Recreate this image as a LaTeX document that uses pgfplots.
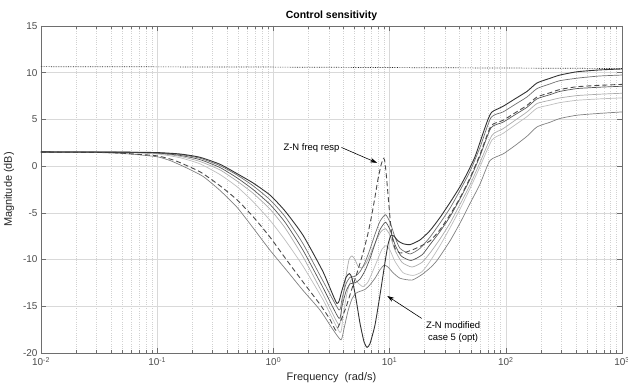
\documentclass[border=0pt]{standalone}
\usepackage{fontspec}
\setmainfont{Liberation Sans}
\usepackage{pgfplots}
\pgfplotsset{compat=1.18}
\usetikzlibrary{arrows.meta}
\definecolor{cA}{HTML}{333333}
\definecolor{cD}{HTML}{4A4A4A}
\definecolor{cG1}{HTML}{707070}
\definecolor{cG2}{HTML}{555555}
\definecolor{cG3}{HTML}{ABABAB}
\definecolor{cG4}{HTML}{BDBDBD}
\definecolor{cG5}{HTML}{808080}
\definecolor{axc}{HTML}{6E6E6E}
\begin{document}
\begin{tikzpicture}
\begin{axis}[
  scale only axis, width=581bp, height=327bp,
  xmode=log, xmin=0.01, xmax=1000, ymin=-20, ymax=15,
  xtick={0.01,0.1,1,10,100,1000},
  xticklabels={10\textsuperscript{-2},10\textsuperscript{-1},10\textsuperscript{0},10\textsuperscript{1},10\textsuperscript{2},10\textsuperscript{3}},
  ytick={-20,-15,-10,-5,0,5,10,15},
  yticklabels={-20,-15,-10,-5,0,5,10,15},
  minor y tick num=0,
  grid=both,
  major grid style={black!15, line width=0.5bp},
  minor grid style={black!18, line width=0.5bp, dash pattern=on 0.6bp off 1.6bp},
  axis line style={axc, line width=0.6bp},
  tick style={axc, line width=0.5bp},
  tick align=inside,
  major tick length=5bp, minor tick length=3bp,
  /pgf/number format/assume math mode=true,
  tick label style={font=\fontsize{10}{12}\selectfont, text=black!70},
  xticklabel style={yshift=-1bp},
  label style={font=\fontsize{11}{13}\selectfont, text=black!85},
  xlabel={Frequency\ \ (rad/s)},
  ylabel={Magnitude (dB)},
  ylabel style={yshift=2bp},
  title={\bfseries Control sensitivity},
  title style={font=\fontsize{10.5}{12}\selectfont, yshift=-4bp},
  every axis plot/.append style={line join=round, smooth, tension=0.35},
]
% dotted reference line
\addplot[black!85, densely dotted, line width=0.7bp] coordinates {(0.01,10.65)(1,10.6)(10,10.55)(100,10.5)(1000,10.45)};
% G4 light
\addplot[cG4, line width=0.7bp] coordinates {(0.01,1.52)(0.0479,1.46)(0.1,1.3)(0.157,0.9)(0.233,0.25)(0.347,-0.9)(0.486,-2.2)(0.668,-3.8)(0.935,-5.8)(1.259,-7.9)(1.798,-10.7)(2.673,-14.3)(3.742,-17.8)(3.972,-16.0)(4.299,-13.6)(4.655,-12.2)(4.941,-12.0)(5.344,-12.5)(5.902,-12.9)(6.518,-12.4)(7.196,-11.2)(7.947,-9.9)(8.60,-8.9)(9.312,-8.5)(10.08,-9.0)(11.13,-10.2)(13.04,-11.4)(15.90,-11.7)(19.0,-11.3)(22.27,-10.2)(27.15,-8.5)(33.11,-6.6)(40.35,-4.6)(49.19,-2.4)(59.96,-0.06)(76.07,2.8)(94.6,3.5)(120,4.4)(152.2,5.3)(185.6,6.2)(240.1,6.55)(292.6,6.8)(410.1,7.05)(646.9,7.2)(1000,7.3)};
% G3 light
\addplot[cG3, line width=0.7bp] coordinates {(0.01,1.52)(0.0479,1.48)(0.1,1.37)(0.157,1.05)(0.233,0.5)(0.347,-0.4)(0.486,-1.6)(0.668,-2.9)(0.935,-4.6)(1.259,-6.6)(1.798,-9.7)(2.673,-13.7)(3.669,-17.0)(3.892,-14.8)(4.216,-11.8)(4.474,-10.0)(4.746,-9.6)(5.036,-10.0)(5.344,-10.7)(5.788,-10.9)(6.265,-10.4)(6.781,-9.5)(7.640,-8.0)(8.432,-7.0)(9.220,-6.7)(10.08,-7.4)(11.13,-9.0)(12.79,-10.3)(15.59,-10.8)(19.0,-10.3)(22.27,-9.3)(27.15,-7.8)(33.11,-6.1)(40.35,-4.1)(49.19,-2.0)(59.96,0.39)(76.07,3.3)(94.6,4.0)(120,4.9)(152.2,5.8)(185.6,6.7)(240.1,7.05)(292.6,7.3)(410.1,7.55)(646.9,7.7)(1000,7.8)};
% G5 medium
\addplot[cG5, line width=0.7bp] coordinates {(0.01,1.5)(0.0322,1.45)(0.0583,1.3)(0.1,1.0)(0.129,0.6)(0.173,-0.1)(0.248,-1.1)(0.347,-2.6)(0.486,-4.4)(0.668,-6.6)(0.935,-9.0)(1.309,-11.2)(1.798,-13.3)(2.518,-15.4)(3.258,-17.5)(3.817,-18.6)(4.052,-17.4)(4.386,-15.5)(4.746,-14.2)(5.137,-13.6)(5.559,-13.4)(6.140,-13.2)(6.781,-12.7)(7.489,-12.0)(8.266,-11.1)(8.951,-10.6)(9.687,-10.8)(10.70,-11.4)(12.29,-12.0)(15.59,-12.2)(19.0,-11.6)(22.27,-10.9)(25.58,-10.1)(33.11,-8.0)(40.35,-6.1)(49.19,-4.0)(59.96,-1.93)(73.11,0.6)(94.6,1.3)(120,2.2)(152.2,3.2)(185.6,4.2)(240.1,4.7)(292.6,5.1)(410.1,5.45)(646.9,5.65)(1000,5.8)};
% G1
\addplot[cG1, line width=0.7bp] coordinates {(0.01,1.52)(0.0479,1.5)(0.1,1.43)(0.157,1.25)(0.233,0.85)(0.347,0.05)(0.486,-0.95)(0.668,-2.1)(0.935,-3.6)(1.259,-5.4)(1.798,-8.3)(2.673,-12.3)(3.669,-15.4)(3.892,-14.2)(4.216,-12.6)(4.562,-11.9)(5.036,-11.8)(5.559,-11.3)(6.140,-10.3)(6.781,-8.9)(7.489,-7.3)(8.266,-5.9)(9.220,-5.2)(10.08,-6.0)(11.13,-7.6)(12.29,-8.8)(14.99,-9.4)(18.27,-8.8)(22.27,-7.6)(27.15,-6.1)(33.11,-4.5)(40.35,-2.6)(49.19,-0.56)(59.96,2.0)(74.57,5.2)(94.6,5.8)(120,6.6)(152.2,7.4)(185.6,8.3)(240.1,8.8)(292.6,9.15)(435.3,9.45)(646.9,9.65)(1000,9.75)};
% G2 dark gray
\addplot[cG2, line width=0.7bp] coordinates {(0.01,1.52)(0.0479,1.49)(0.1,1.4)(0.157,1.15)(0.233,0.7)(0.347,-0.15)(0.486,-1.25)(0.668,-2.5)(0.935,-4.1)(1.259,-6.0)(1.798,-9.0)(2.673,-13.0)(3.669,-16.3)(3.892,-15.0)(4.216,-13.4)(4.562,-12.6)(5.036,-12.5)(5.559,-12.1)(6.140,-11.2)(6.781,-9.9)(7.489,-8.3)(8.266,-6.8)(9.220,-6.0)(10.08,-6.8)(11.13,-8.4)(12.54,-9.6)(15.29,-10.1)(19.0,-9.5)(22.27,-8.4)(27.15,-7.0)(33.11,-5.4)(40.35,-3.5)(49.19,-1.4)(59.96,1.08)(74.57,4.1)(94.6,4.7)(120,5.5)(152.2,6.3)(185.6,7.2)(240.1,7.65)(292.6,8.0)(410.1,8.3)(646.9,8.45)(1000,8.55)};
% D dashed: Z-N freq resp
\addplot[cD, line width=0.9bp, dash pattern=on 5bp off 3bp] coordinates {(0.01,1.5)(0.0393,1.45)(0.0711,1.25)(0.1,1.1)(0.142,0.6)(0.233,-0.6)(0.347,-2.1)(0.486,-3.6)(0.668,-5.4)(0.935,-7.6)(1.309,-10.1)(1.798,-12.4)(2.518,-14.8)(3.070,-16.4)(3.458,-17.6)(3.817,-16.5)(4.216,-15.1)(4.746,-13.1)(5.344,-11.1)(5.902,-9.3)(6.518,-7.2)(7.055,-5.1)(7.489,-3.3)(7.947,-1.4)(8.432,0.1)(8.69,0.6)(8.862,0.85)(9.04,0.7)(9.312,-0.6)(9.687,-3.0)(10.08,-5.5)(10.49,-7.5)(11.13,-8.8)(12.29,-9.3)(13.84,-9.2)(16.87,-8.8)(22.27,-8.0)(27.15,-6.8)(33.11,-5.2)(40.35,-3.4)(49.19,-1.26)(59.96,1.24)(74.57,4.3)(94.6,4.9)(120,5.7)(152.2,6.5)(185.6,7.4)(240.1,7.85)(292.6,8.2)(410.1,8.5)(646.9,8.65)(1000,8.75)};
% A darkest: Z-N modified case 5 (opt)
\addplot[cA, line width=0.9bp] coordinates {(0.01,1.52)(0.0479,1.5)(0.1,1.45)(0.157,1.3)(0.233,0.95)(0.347,0.2)(0.486,-0.8)(0.668,-1.8)(0.935,-3.1)(1.259,-4.8)(1.798,-7.4)(2.673,-11.3)(3.526,-14.7)(3.892,-13.3)(4.216,-11.9)(4.518,-11.5)(4.746,-12.0)(5.137,-14.2)(5.559,-16.8)(6.023,-18.8)(6.390,-19.4)(6.781,-19.0)(7.489,-17.0)(8.266,-13.8)(9.13,-10.3)(9.687,-8.4)(10.28,-7.4)(10.91,-7.5)(11.81,-8.0)(13.04,-8.3)(14.99,-8.4)(18.27,-7.9)(22.27,-6.9)(27.15,-5.5)(33.11,-3.9)(40.35,-2.2)(46.35,-0.8)(54.31,1.0)(63.64,3.5)(70.27,5.0)(76.07,5.8)(94.6,6.4)(120,7.2)(152.2,8.0)(185.6,8.9)(240.1,9.4)(292.6,9.75)(410.1,10.1)(646.9,10.3)(1000,10.4)};
% annotations
\node[anchor=east, font=\fontsize{9.5}{11.4}\selectfont, inner sep=1bp] at (axis cs:3.78,1.95) {Z-N freq resp};
\draw[black, line width=0.6bp, -{Stealth[length=7bp,width=4.5bp]}] (axis cs:3.85,2.0) -- (axis cs:7.8,0.35);
\node[align=center, font=\fontsize{9.5}{11.4}\selectfont, inner sep=0bp] at (axis cs:35.2,-17.75) {Z-N modified\\ case 5 (opt)};
\draw[black, line width=0.6bp, -{Stealth[length=7bp,width=4.5bp]}] (axis cs:18.9,-16.3) -- (axis cs:9.55,-13.9);
\end{axis}
\path (current axis.south west) ++(-41bp,-39bp) coordinate (bl);
\path (current axis.north east) ++(6bp,26bp) coordinate (tr);
\pgfresetboundingbox
\useasboundingbox (bl) rectangle (tr);
\end{tikzpicture}
\end{document}
